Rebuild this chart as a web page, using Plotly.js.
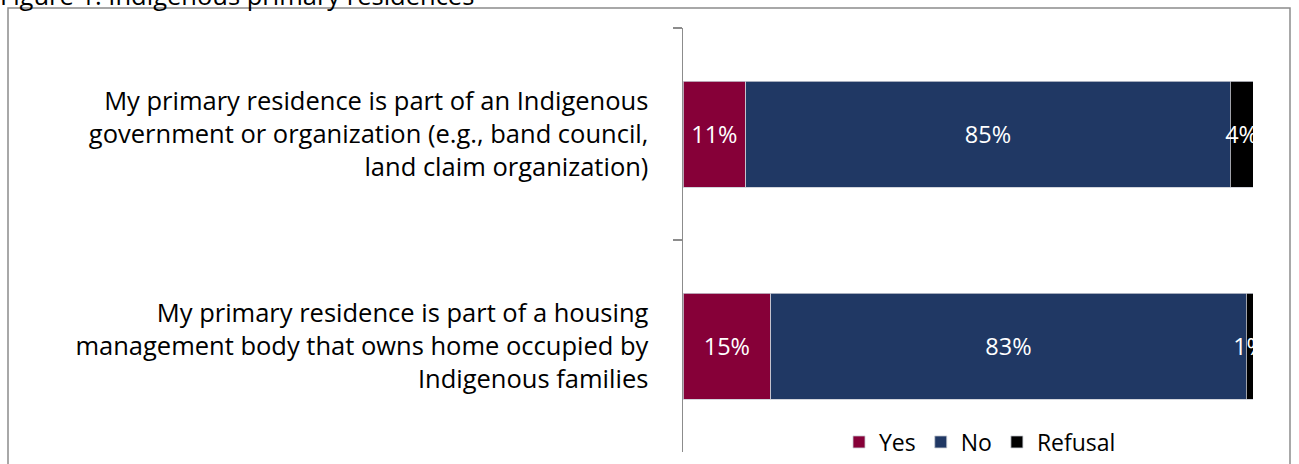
<!DOCTYPE html>
<html>
<head>
<meta charset="utf-8">
<script src="https://cdn.plot.ly/plotly-3.0.1.min.js"></script>
<style>
  html, body { margin: 0; padding: 0; background: #fff; }
  #chart { width: 1299px; height: 464px; }
</style>
</head>
<body>
<div id="chart"></div>
<script>
const categories = [
  "My primary residence is part of an Indigenous<br>government or organization (e.g., band council,<br>land claim organization)",
  "My primary residence is part of a housing<br>management body that owns home occupied by<br>Indigenous families"
];
const yesValues = [11, 15.4];
const noValues = [85, 83.4];
const refusalValues = [4, 1.2];
const seriesNames = ["Yes", "No", "Refusal"];
const seriesColors = ["#860038", "#203864", "#000000"];
const titleText = "Figure 1: Indigenous primary residences";

const FONT = "'Open Sans', Lato, sans-serif";
const allValues = [yesValues, noValues, refusalValues];

const traces = allValues.map((vals, i) => ({
  type: "bar",
  orientation: "h",
  name: seriesNames[i],
  y: categories,
  x: vals,
  width: 0.5,
  marker: { color: seriesColors[i], line: { color: "#c8cbd3", width: 0.8 } },
  texttemplate: "%{x:.0f}%",
  textposition: "inside",
  insidetextanchor: "middle",
  textangle: 0,
  constraintext: "none",
  textfont: { family: FONT, size: 23.5, color: "#ffffff" },
  hoverinfo: "skip",
  cliponaxis: true
}));

// plot area: x 683..1253, y 28..452
const L = 683, R = 1253, T = 28, B = 452, W = 1299, H = 464;
const px = (x) => (x - L) / (R - L);
const py = (y) => (B - y) / (B - T);

const layout = {
  width: W,
  height: H,
  margin: { l: L, r: W - R, t: T, b: H - B, pad: 0, autoexpand: false },
  paper_bgcolor: "#ffffff",
  plot_bgcolor: "#ffffff",
  barmode: "stack",
  showlegend: true,
  font: { family: FONT, size: 22, color: "#000000" },
  xaxis: {
    range: [0, 100],
    visible: false,
    fixedrange: true
  },
  yaxis: {
    type: "category",
    autorange: "reversed",
    showline: true,
    linecolor: "#8c8c8c",
    linewidth: 1.5,
    ticks: "outside",
    tickson: "boundaries",
    ticklen: 9,
    tickwidth: 1.5,
    tickcolor: "#8c8c8c",
    ticklabelstandoff: 28,
    showgrid: false,
    zeroline: false,
    tickfont: { family: FONT, size: 25.5, color: "#000000" },
    fixedrange: true
  },
  legend: {
    orientation: "h",
    traceorder: "normal",
    x: px(980),
    xanchor: "center",
    y: py(442),
    yanchor: "middle",
    font: { family: FONT, size: 23, color: "#000000" },
    bgcolor: "rgba(0,0,0,0)",
    itemclick: false,
    itemdoubleclick: false
  },
  shapes: [{
    type: "rect",
    xref: "paper", yref: "paper",
    x0: px(8), x1: px(1290),
    y0: py(480), y1: py(8),
    line: { color: "#8c8c8c", width: 1.5 },
    fillcolor: "rgba(0,0,0,0)",
    layer: "below"
  }],
  annotations: [{
    text: titleText,
    xref: "paper", yref: "paper",
    x: px(-2), xanchor: "left",
    y: py(14), yanchor: "bottom",
    showarrow: false,
    font: { family: FONT, size: 25.5, color: "#000000" }
  }]
};

Plotly.newPlot("chart", traces, layout, { displayModeBar: false, staticPlot: true });
</script>
</body>
</html>
